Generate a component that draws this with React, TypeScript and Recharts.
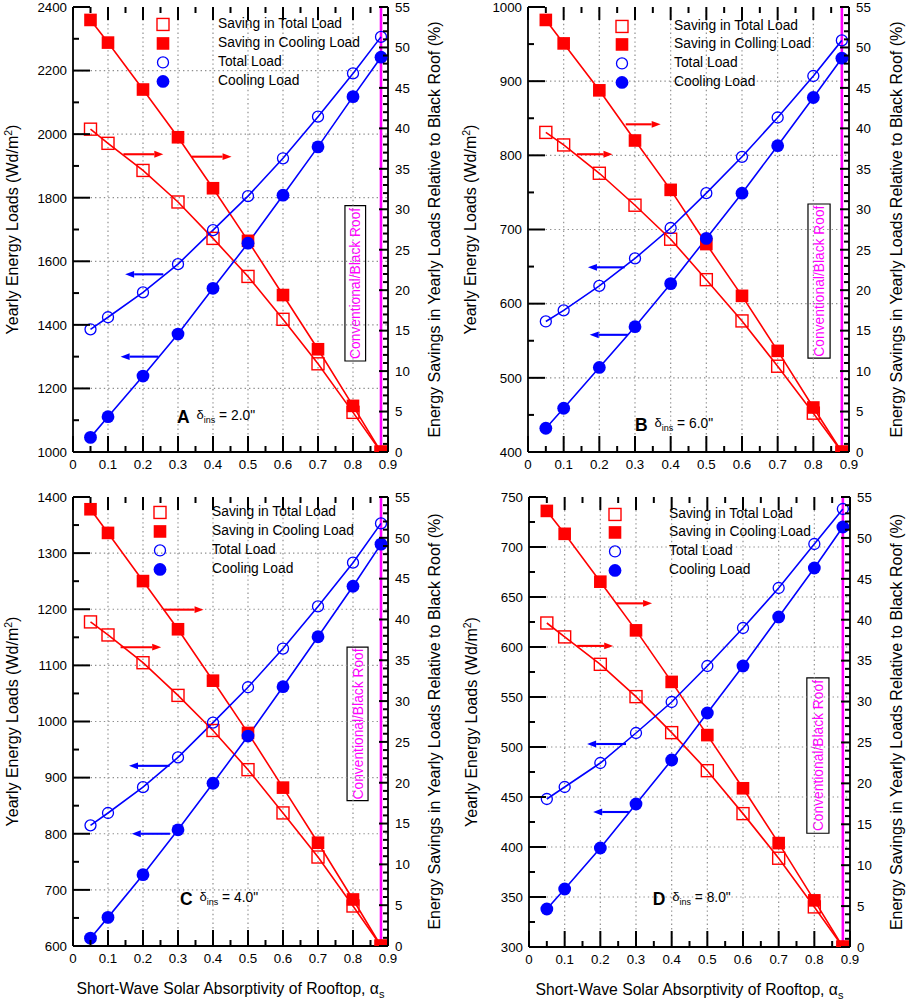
import React from 'react';
import { LineChart, Line, XAxis, YAxis, ReferenceLine, ReferenceArea, Legend } from 'recharts';

const FONT = '"Liberation Sans", Arial, Helvetica, sans-serif';
const RED = '#ff0000';
const BLUE = '#0000ff';
const MAGENTA = '#ff00ff';
const GRID = '#8f8f8f';

// ---------------- data ----------------
const ABSORPTIVITY = [0.05, 0.1, 0.2, 0.3, 0.4, 0.5, 0.6, 0.7, 0.8, 0.88];

const A_TOTAL_LOAD = [1386, 1424, 1502, 1591, 1698, 1805, 1924, 2055, 2191, 2306];
const A_COOLING_LOAD = [1046, 1111, 1239, 1371, 1515, 1657, 1808, 1960, 2118, 2242];
const A_SAVING_TOTAL = [39.9, 38.15, 34.8, 30.9, 26.4, 21.7, 16.4, 10.9, 4.9, 0];
const A_SAVING_COOLING = [53.4, 50.6, 44.8, 38.9, 32.6, 26.1, 19.4, 12.7, 5.7, 0];

const B_TOTAL_LOAD = [576, 591, 624, 661, 702, 749, 798, 851, 907, 955];
const B_COOLING_LOAD = [432, 459, 514, 569, 627, 688, 749, 813, 878, 931];
const B_SAVING_TOTAL = [39.5, 37.95, 34.45, 30.5, 26.3, 21.3, 16.2, 10.6, 4.8, 0];
const B_SAVING_COOLING = [53.4, 50.5, 44.7, 38.5, 32.4, 25.7, 19.3, 12.5, 5.5, 0];

const C_TOTAL_LOAD = [815, 837, 883, 936, 998, 1061, 1130, 1205, 1283, 1353];
const C_COOLING_LOAD = [614, 651, 727, 807, 890, 974, 1062, 1151, 1241, 1316];
const C_SAVING_TOTAL = [39.7, 38.1, 34.7, 30.7, 26.4, 21.6, 16.3, 10.9, 4.9, 0];
const C_SAVING_COOLING = [53.5, 50.6, 44.7, 38.8, 32.5, 26.1, 19.4, 12.65, 5.7, 0];

const D_TOTAL_LOAD = [448, 460, 484, 514, 545, 581, 619, 659, 703, 738];
const D_COOLING_LOAD = [338, 358, 399, 443, 487, 534, 581, 630, 679, 720];
const D_SAVING_TOTAL = [39.6, 37.9, 34.55, 30.6, 26.2, 21.55, 16.3, 10.85, 4.9, 0];
const D_SAVING_COOLING = [53.3, 50.5, 44.65, 38.7, 32.4, 25.9, 19.4, 12.7, 5.7, 0];

const X_TICK_LABELS = [0, 0.1, 0.2, 0.3, 0.4, 0.5, 0.6, 0.7, 0.8, 0.9];
const X_GRID_VALUES = [0.1, 0.2, 0.3, 0.4, 0.5, 0.6, 0.7, 0.8];
const RIGHT_TICK_LABELS = [0, 5, 10, 15, 20, 25, 30, 35, 40, 45, 50, 55];
const A_LEFT_TICK_LABELS = [1000, 1200, 1400, 1600, 1800, 2000, 2200, 2400];
const B_LEFT_TICK_LABELS = [400, 500, 600, 700, 800, 900, 1000];
const C_LEFT_TICK_LABELS = [600, 700, 800, 900, 1000, 1100, 1200, 1300, 1400];
const D_LEFT_TICK_LABELS = [300, 350, 400, 450, 500, 550, 600, 650, 700, 750];

const NAMES_STANDARD = ['Saving in Total Load', 'Saving in Cooling Load', 'Total Load', 'Cooling Load'];
const NAMES_PANEL_B = ['Saving in Total Load', 'Saving in Colling Load', 'Total Load', 'Cooling Load'];

const BASELINE_ABSORPTIVITY = 0.88;
const BOX_TEXT = 'Conventional/Black Roof';

// ---------------- helpers ----------------
const SERIES_KEYS = ['saveTotal', 'saveCooling', 'total', 'cooling'];
const X_DOMAIN: [number, number] = [0, 0.9];
const RIGHT_DOMAIN: [number, number] = [0, 55];
const midpoints = (m: number[]) => m.slice(0, -1).map((v, i) => (v + m[i + 1]) / 2);
const withMinor = (m: number[]) => [...m, ...midpoints(m)].sort((a, b) => a - b);
const isIn = (list: number[], v: number) => list.some((m) => Math.abs(m - v) < 1e-9);
const X_ALL_TICKS = withMinor(X_TICK_LABELS);
const RIGHT_ALL_TICKS = Array.from({ length: 56 }, (_, i) => i);

// tick-mark lengths in pixels (inward)
const TICK_STROKE = 2;
const LEFT_MAJOR = 17, LEFT_MINOR = 6;
const BOTTOM_MAJOR = 16, BOTTOM_MINOR = 6;
const TOP_MAJOR = 13, TOP_MINOR = 6;
const RIGHT_MAJOR = 9, RIGHT_MINOR = 5;
const TICK_FONT = 13.3;

const fmt = (v: number) => String(Math.round(v * 1000) / 1000);

// axis tick labels (text only)
const makeLeftLabel = (majors: number[]) => (p: any) => {
  const v = p.payload.value;
  if (!isIn(majors, v)) return <g />;
  return (
    <text x={p.x} y={p.y} dy="0.36em" textAnchor="end" fontSize={TICK_FONT} fontFamily={FONT} fill="#000">
      {fmt(v)}
    </text>
  );
};
const rightLabel = (p: any) => {
  const v = p.payload.value;
  if (!isIn(RIGHT_TICK_LABELS, v)) return <g />;
  return (
    <text x={p.x} y={p.y} dy="0.36em" textAnchor="start" fontSize={TICK_FONT} fontFamily={FONT} fill="#000">
      {fmt(v)}
    </text>
  );
};
const bottomLabel = (p: any) => {
  const v = p.payload.value;
  if (!isIn(X_TICK_LABELS, v)) return <g />;
  return (
    <text x={p.x} y={p.y} dy="0.72em" textAnchor="middle" fontSize={TICK_FONT} fontFamily={FONT} fill="#000">
      {fmt(v)}
    </text>
  );
};

function Marker({ kind, cx, cy }: { kind: string; cx: number; cy: number }) {
  if (cx == null || cy == null || isNaN(cx) || isNaN(cy)) return null;
  switch (kind) {
    case 'saveTotal':
      return <rect x={cx - 6} y={cy - 6} width={12} height={12} fill="none" stroke={RED} strokeWidth={1.4} />;
    case 'saveCooling':
      return <rect x={cx - 6.3} y={cy - 6.3} width={12.6} height={12.6} fill={RED} />;
    case 'total':
      return <circle cx={cx} cy={cy} r={5.5} fill="none" stroke={BLUE} strokeWidth={1.3} />;
    default:
      return <circle cx={cx} cy={cy} r={6.4} fill={BLUE} />;
  }
}

const dotRenderer = (kind: string) => (p: any) => (
  <g key={`${kind}-${p.index}`}>
    <Marker kind={kind} cx={p.cx} cy={p.cy} />
  </g>
);

const arrowShape = (color: string) => (p: any) => {
  const x1 = Number(p.x1), y1 = Number(p.y1), x2 = Number(p.x2), y2 = Number(p.y2);
  if ([x1, y1, x2, y2].some((v) => isNaN(v))) return <g />;
  const dx = x2 - x1;
  const dy = y2 - y1;
  const len = Math.hypot(dx, dy) || 1;
  const ux = dx / len;
  const uy = dy / len;
  const hl = 9;
  const hw = 3.4;
  const bx = x2 - ux * hl;
  const by = y2 - uy * hl;
  return (
    <g>
      <line x1={x1} y1={y1} x2={bx} y2={by} stroke={color} strokeWidth={2.1} />
      <polygon points={`${x2},${y2} ${bx - uy * hw},${by + ux * hw} ${bx + uy * hw},${by - ux * hw}`} fill={color} />
    </g>
  );
};

const ROW = 18.9;

// ---------------- panel layouts ----------------
type Arrow = { from: number; to: number; at: number };
type PanelCfg = {
  id: string;
  letter: string;
  ins: string;
  left: number;
  top: number;
  width: number;
  height: number;
  marginTop: number;
  leftW: number;
  rightW: number;
  bottomH: number;
  yDomain: [number, number];
  yLabels: number[];
  total: number[];
  cooling: number[];
  saveTotal: number[];
  saveCooling: number[];
  names: string[];
  redArrows: Arrow[];
  blueArrows: Arrow[];
  box: { x1: number; x2: number; y1: number; y2: number };
  legend: { x: number; y: number; textX: number };
  anno: { x: number; y: number };
  leftTitleX: number;
  rightTitleX: number;
  xTitle: boolean;
};

const PANELS: PanelCfg[] = [
  {
    id: 'A', letter: 'A', ins: '2.0"',
    left: 0, top: 0, width: 455, height: 490, marginTop: 7, leftW: 73, rightW: 67, bottomH: 38,
    yDomain: [1000, 2400], yLabels: A_LEFT_TICK_LABELS,
    total: A_TOTAL_LOAD, cooling: A_COOLING_LOAD, saveTotal: A_SAVING_TOTAL, saveCooling: A_SAVING_COOLING,
    names: NAMES_STANDARD,
    redArrows: [{ from: 0.144, to: 0.258, at: 36.8 }, { from: 0.339, to: 0.453, at: 36.5 }],
    blueArrows: [{ from: 0.258, to: 0.149, at: 1559 }, { from: 0.244, to: 0.136, at: 1300 }],
    box: { x1: 0.777, x2: 0.836, y1: 11.25, y2: 30.44 },
    legend: { x: 163, y: 24.5, textX: 218 },
    anno: { x: 177, y: 419.5 },
    leftTitleX: 18, rightTitleX: 440, xTitle: false,
  },
  {
    id: 'B', letter: 'B', ins: '6.0"',
    left: 455, top: 0, width: 454, height: 490, marginTop: 7, leftW: 73, rightW: 60, bottomH: 38,
    yDomain: [400, 1000], yLabels: B_LEFT_TICK_LABELS,
    total: B_TOTAL_LOAD, cooling: B_COOLING_LOAD, saveTotal: B_SAVING_TOTAL, saveCooling: B_SAVING_COOLING,
    names: NAMES_PANEL_B,
    redArrows: [{ from: 0.137, to: 0.237, at: 36.8 }, { from: 0.274, to: 0.372, at: 40.5 }],
    blueArrows: [{ from: 0.271, to: 0.168, at: 649 }, { from: 0.28, to: 0.173, at: 558 }],
    box: { x1: 0.785, x2: 0.847, y1: 11.6, y2: 30.65 },
    legend: { x: 167, y: 26, textX: 219 },
    anno: { x: 180, y: 427.5 },
    leftTitleX: 21, rightTitleX: 447, xTitle: false,
  },
  {
    id: 'C', letter: 'C', ins: '4.0"',
    left: 0, top: 490, width: 455, height: 510, marginTop: 7, leftW: 73, rightW: 67, bottomH: 54,
    yDomain: [600, 1400], yLabels: C_LEFT_TICK_LABELS,
    total: C_TOTAL_LOAD, cooling: C_COOLING_LOAD, saveTotal: C_SAVING_TOTAL, saveCooling: C_SAVING_COOLING,
    names: NAMES_STANDARD,
    redArrows: [{ from: 0.259, to: 0.373, at: 41.2 }, { from: 0.136, to: 0.252, at: 36.6 }],
    blueArrows: [{ from: 0.276, to: 0.16, at: 921 }, { from: 0.277, to: 0.168, at: 800 }],
    box: { x1: 0.783, x2: 0.843, y1: 17.8, y2: 36.6 },
    legend: { x: 159.5, y: 22.8, textX: 212 },
    anno: { x: 180, y: 411.7 },
    leftTitleX: 18, rightTitleX: 440, xTitle: true,
  },
  {
    id: 'D', letter: 'D', ins: '8.0"',
    left: 455, top: 490, width: 454, height: 510, marginTop: 7, leftW: 74, rightW: 59, bottomH: 53,
    yDomain: [300, 750], yLabels: D_LEFT_TICK_LABELS,
    total: D_TOTAL_LOAD, cooling: D_COOLING_LOAD, saveTotal: D_SAVING_TOTAL, saveCooling: D_SAVING_COOLING,
    names: NAMES_STANDARD,
    redArrows: [{ from: 0.244, to: 0.345, at: 42.0 }, { from: 0.135, to: 0.236, at: 36.8 }],
    blueArrows: [{ from: 0.272, to: 0.163, at: 503 }, { from: 0.28, to: 0.18, at: 435 }],
    box: { x1: 0.779, x2: 0.841, y1: 13.9, y2: 32.9 },
    legend: { x: 160, y: 24, textX: 214 },
    anno: { x: 197.7, y: 411.7 },
    leftTitleX: 22, rightTitleX: 447, xTitle: true,
  },
];

function LegendBox({ payload, cfg }: { payload: any[]; cfg: PanelCfg }) {
  const items = SERIES_KEYS.map((k, i) => {
    const found = (payload || []).find((p: any) => p && p.dataKey === k);
    return { key: k, name: found ? found.value : cfg.names[i] };
  });
  const gap = cfg.legend.textX - (cfg.legend.x + 10);
  return (
    <div style={{ fontFamily: FONT, fontSize: 13.8, color: '#000', whiteSpace: 'nowrap' }}>
      {items.map((it) => (
        <div key={it.key} style={{ display: 'flex', alignItems: 'center', height: ROW, lineHeight: `${ROW}px` }}>
          <svg width={20} height={ROW} style={{ flex: 'none', overflow: 'visible' }}>
            <Marker kind={it.key} cx={10} cy={ROW / 2} />
          </svg>
          <span style={{ marginLeft: gap }}>{it.name}</span>
        </div>
      ))}
    </div>
  );
}

// Inward frame tick marks, placed with the same linear mapping the chart axes use
function FrameTicks({ cfg, plotW, plotH }: { cfg: PanelCfg; plotW: number; plotH: number }) {
  const L = cfg.leftW;
  const T = cfg.marginTop;
  const R = L + plotW;
  const B = T + plotH;
  const [yMin, yMax] = cfg.yDomain;
  const xPx = (v: number) => L + ((v - X_DOMAIN[0]) / (X_DOMAIN[1] - X_DOMAIN[0])) * plotW;
  const yLeftPx = (v: number) => B - ((v - yMin) / (yMax - yMin)) * plotH;
  const yRightPx = (v: number) => B - ((v - RIGHT_DOMAIN[0]) / (RIGHT_DOMAIN[1] - RIGHT_DOMAIN[0])) * plotH;
  const s = { stroke: '#000', strokeWidth: TICK_STROKE };
  return (
    <g>
      {withMinor(cfg.yLabels).map((v) => {
        const y = yLeftPx(v);
        const len = isIn(cfg.yLabels, v) ? LEFT_MAJOR : LEFT_MINOR;
        return <line key={`l${v}`} x1={L} x2={L + len} y1={y} y2={y} {...s} />;
      })}
      {RIGHT_ALL_TICKS.map((v) => {
        const y = yRightPx(v);
        const len = isIn(RIGHT_TICK_LABELS, v) ? RIGHT_MAJOR : RIGHT_MINOR;
        return <line key={`r${v}`} x1={R} x2={R - len} y1={y} y2={y} {...s} />;
      })}
      {X_ALL_TICKS.map((v) => {
        const x = xPx(v);
        const major = isIn(X_TICK_LABELS, v);
        return (
          <g key={`x${v}`}>
            <line x1={x} x2={x} y1={B} y2={B - (major ? BOTTOM_MAJOR : BOTTOM_MINOR)} {...s} />
            <line x1={x} x2={x} y1={T} y2={T + (major ? TOP_MAJOR : TOP_MINOR)} {...s} />
          </g>
        );
      })}
    </g>
  );
}

function Panel({ cfg }: { cfg: PanelCfg }) {
  const plotH = cfg.height - cfg.marginTop - cfg.bottomH;
  const plotW = cfg.width - cfg.leftW - cfg.rightW;
  const midY = cfg.marginTop + plotH / 2;
  const data = ABSORPTIVITY.map((x, i) => ({
    x,
    saveTotal: cfg.saveTotal[i],
    saveCooling: cfg.saveCooling[i],
    total: cfg.total[i],
    cooling: cfg.cooling[i],
  }));
  const leftLabel = makeLeftLabel(cfg.yLabels);
  const axisLine = { stroke: '#000', strokeWidth: 1.8 };

  const leftTitle = () => (
    <text
      x={cfg.leftTitleX}
      y={midY}
      transform={`rotate(-90 ${cfg.leftTitleX} ${midY})`}
      textAnchor="middle"
      fontSize={16}
      fontFamily={FONT}
      fill="#000"
    >
      Yearly Energy Loads (Wd/m
      <tspan dy={-6} fontSize={10.5}>2</tspan>
      <tspan dy={6}>)</tspan>
    </text>
  );
  const rightTitle = () => (
    <text
      x={cfg.rightTitleX}
      y={midY}
      transform={`rotate(-90 ${cfg.rightTitleX} ${midY})`}
      textAnchor="middle"
      fontSize={16}
      fontFamily={FONT}
      fill="#000"
    >
      Energy Savings in Yearly Loads Relative to Black Roof (%)
    </text>
  );
  const xTitleY = cfg.marginTop + plotH + 48;
  const xTitleX = cfg.leftW + plotW / 2;
  const xTitle = () => (
    <text x={xTitleX} y={xTitleY} textAnchor="middle" fontSize={15.7} fontFamily={FONT} fill="#000">
      Short-Wave Solar Absorptivity of Rooftop, α
      <tspan dy={4} fontSize={11}>s</tspan>
    </text>
  );
  const boxLabel = (p: any) => {
    const vb = p.viewBox || {};
    const cx = Number(vb.x) + Number(vb.width) / 2;
    const cy = Number(vb.y) + Number(vb.height) / 2;
    if (isNaN(cx) || isNaN(cy)) return <g />;
    return (
      <text
        x={cx}
        y={cy}
        dy="0.36em"
        transform={`rotate(-90 ${cx} ${cy})`}
        textAnchor="middle"
        fontSize={13.8}
        fontFamily={FONT}
        fill={MAGENTA}
      >
        {BOX_TEXT}
      </text>
    );
  };

  return (
    <div style={{ position: 'absolute', left: cfg.left, top: cfg.top, width: cfg.width, height: cfg.height }}>
      <LineChart
        width={cfg.width}
        height={cfg.height}
        data={data}
        margin={{ top: cfg.marginTop, right: 0, bottom: 0, left: 0 }}
        style={{ fontFamily: FONT }}
      >
        <XAxis
          xAxisId="b"
          dataKey="x"
          type="number"
          domain={X_DOMAIN}
          ticks={X_TICK_LABELS}
          interval={0}
          tickSize={0}
          tickMargin={7}
          tickLine={false}
          axisLine={axisLine}
          tick={bottomLabel}
          height={cfg.bottomH}
          allowDataOverflow
          label={cfg.xTitle ? { content: xTitle } : undefined}
        />
        <XAxis
          xAxisId="t"
          orientation="top"
          dataKey="x"
          type="number"
          domain={X_DOMAIN}
          ticks={X_TICK_LABELS}
          tick={false}
          tickLine={false}
          axisLine={axisLine}
          height={0}
          allowDataOverflow
        />
        <YAxis
          yAxisId="l"
          orientation="left"
          type="number"
          domain={cfg.yDomain}
          ticks={cfg.yLabels}
          interval={0}
          tickSize={0}
          tickMargin={6}
          tickLine={false}
          axisLine={axisLine}
          tick={leftLabel}
          width={cfg.leftW}
          allowDataOverflow
          label={{ content: leftTitle }}
        />
        <YAxis
          yAxisId="r"
          orientation="right"
          type="number"
          domain={RIGHT_DOMAIN}
          ticks={RIGHT_TICK_LABELS}
          interval={0}
          tickSize={0}
          tickMargin={7}
          tickLine={false}
          axisLine={axisLine}
          tick={rightLabel}
          width={cfg.rightW}
          allowDataOverflow
          label={{ content: rightTitle }}
        />

        {cfg.yLabels.slice(1, -1).map((v) => (
          <ReferenceLine key={`gy${v}`} xAxisId="b" yAxisId="l" y={v} stroke={GRID} strokeWidth={1.2} strokeDasharray="1.4 3" />
        ))}
        {X_GRID_VALUES.map((v) => (
          <ReferenceLine key={`gx${v}`} xAxisId="b" yAxisId="l" x={v} stroke={GRID} strokeWidth={1.2} strokeDasharray="1.4 3" />
        ))}

        <ReferenceLine xAxisId="b" yAxisId="l" x={BASELINE_ABSORPTIVITY} stroke={MAGENTA} strokeWidth={2.6} />

        <ReferenceArea
          xAxisId="b"
          yAxisId="r"
          x1={cfg.box.x1}
          x2={cfg.box.x2}
          y1={cfg.box.y1}
          y2={cfg.box.y2}
          fill="#ffffff"
          fillOpacity={1}
          stroke="#000"
          strokeWidth={1.2}
          label={{ content: boxLabel }}
        />

        {cfg.redArrows.map((a, i) => (
          <ReferenceLine
            key={`ra${i}`}
            xAxisId="b"
            yAxisId="r"
            segment={[{ x: a.from, y: a.at }, { x: a.to, y: a.at }]}
            stroke={RED}
            shape={arrowShape(RED)}
          />
        ))}
        {cfg.blueArrows.map((a, i) => (
          <ReferenceLine
            key={`ba${i}`}
            xAxisId="b"
            yAxisId="l"
            segment={[{ x: a.from, y: a.at }, { x: a.to, y: a.at }]}
            stroke={BLUE}
            shape={arrowShape(BLUE)}
          />
        ))}

        <Line xAxisId="b" yAxisId="r" dataKey="saveTotal" name={cfg.names[0]} stroke={RED} strokeWidth={1.6}
          dot={dotRenderer('saveTotal')} activeDot={false} isAnimationActive={false} />
        <Line xAxisId="b" yAxisId="r" dataKey="saveCooling" name={cfg.names[1]} stroke={RED} strokeWidth={1.6}
          dot={dotRenderer('saveCooling')} activeDot={false} isAnimationActive={false} />
        <Line xAxisId="b" yAxisId="l" dataKey="total" name={cfg.names[2]} stroke={BLUE} strokeWidth={1.6}
          dot={dotRenderer('total')} activeDot={false} isAnimationActive={false} />
        <Line xAxisId="b" yAxisId="l" dataKey="cooling" name={cfg.names[3]} stroke={BLUE} strokeWidth={1.6}
          dot={dotRenderer('cooling')} activeDot={false} isAnimationActive={false} />

        <Legend
          layout="vertical"
          align="center"
          verticalAlign="middle"
          wrapperStyle={{ left: cfg.legend.x - 10, top: cfg.legend.y - ROW / 2, width: 'auto', height: 'auto' }}
          content={(props: any) => <LegendBox payload={props.payload} cfg={cfg} />}
        />
      </LineChart>
      <svg
        width={cfg.width}
        height={cfg.height}
        style={{ position: 'absolute', left: 0, top: 0, pointerEvents: 'none', overflow: 'visible' }}
      >
        <FrameTicks cfg={cfg} plotW={plotW} plotH={plotH} />
        <text x={cfg.anno.x} y={cfg.anno.y + 3.2} fontSize={17.5} fontWeight="bold" fontFamily={FONT} fill="#000">
          {cfg.letter}
        </text>
        <text x={cfg.anno.x + 19.5} y={cfg.anno.y - 1} fontSize={13} fontFamily={FONT} fill="#000">
          δ
          <tspan dy={4.5} fontSize={9}>ins</tspan>
          <tspan dy={-3.5} fontSize={13.8}> = {cfg.ins}</tspan>
        </text>
      </svg>
    </div>
  );
}

export default function App() {
  return (
    <div
      style={{
        position: 'absolute',
        left: 0,
        top: 0,
        width: 909,
        height: 1000,
        background: '#fff',
        overflow: 'hidden',
        fontFamily: FONT,
      }}
    >
      {PANELS.map((cfg) => (
        <Panel key={cfg.id} cfg={cfg} />
      ))}
    </div>
  );
}
